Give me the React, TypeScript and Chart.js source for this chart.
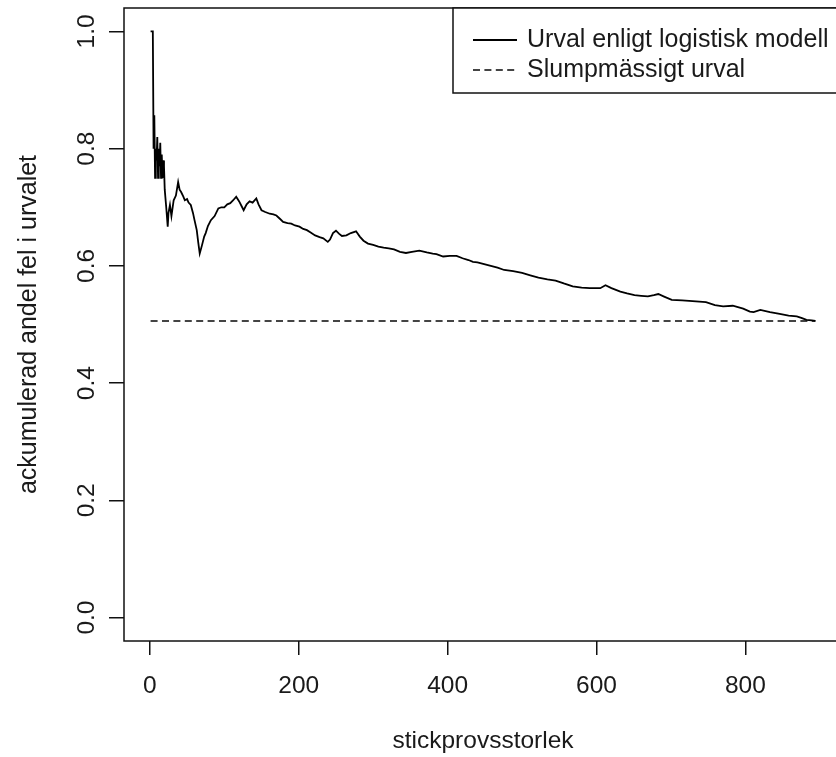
import React, { useEffect, useRef } from "react";
import { Chart, registerables } from "chart.js";

Chart.register(...registerables);

const sampleSize = [
  1, 4, 5, 6, 7, 8, 9, 10, 11, 12, 13, 14, 15, 16, 17, 18, 19, 20, 22, 24, 25, 27, 29, 32, 35, 38, 40, 42, 45, 47,
  50, 52, 55, 58, 60, 63, 65, 67, 70, 73, 75, 78, 82, 87, 92, 96, 100, 104, 108, 112, 116, 120, 124, 126, 130, 134,
  138, 143, 146, 150, 155, 161, 166, 170, 175, 179, 185, 190, 195, 201, 206, 211, 216, 222, 228, 233, 239, 242, 246,
  250, 254, 258, 264, 270, 277, 282, 287, 293, 300, 307, 314, 321, 328, 336, 344, 352, 362, 372, 380, 385, 394, 403,
  412, 420, 428, 434, 440, 449, 458, 467, 476, 488, 500, 511, 522, 534, 545, 556, 568, 580, 591, 600, 605, 612, 620,
  632, 641, 651, 660, 669, 677, 683, 690, 701, 715, 729, 738, 747, 759, 770, 783, 797, 806, 811, 820, 833, 846, 858,
  869, 876, 882, 889, 894,
];

const errorShare = [
  1.0, 1.0, 0.8, 0.857, 0.75, 0.8, 0.78, 0.82, 0.75, 0.8, 0.77, 0.81, 0.75, 0.79, 0.75, 0.78, 0.77, 0.73, 0.7, 0.667,
  0.69, 0.704, 0.685, 0.712, 0.72, 0.743, 0.73, 0.726, 0.718, 0.712, 0.714, 0.708, 0.704, 0.69, 0.678, 0.661, 0.64,
  0.621, 0.635, 0.65, 0.656, 0.668, 0.678, 0.685, 0.698, 0.7, 0.7, 0.705, 0.707, 0.712, 0.718, 0.71, 0.7, 0.695,
  0.705, 0.71, 0.708, 0.715, 0.705, 0.695, 0.692, 0.689, 0.688, 0.686, 0.68, 0.675, 0.673, 0.672, 0.669, 0.667,
  0.663, 0.661, 0.657, 0.652, 0.649, 0.647, 0.641, 0.645, 0.656, 0.66, 0.655, 0.651, 0.652, 0.656, 0.659, 0.65,
  0.643, 0.638, 0.636, 0.633, 0.631, 0.63, 0.628, 0.624, 0.622, 0.624, 0.626, 0.623, 0.621, 0.62, 0.616, 0.617,
  0.617, 0.613, 0.61, 0.607, 0.606, 0.603, 0.6, 0.597, 0.593, 0.591, 0.588, 0.584, 0.58, 0.577, 0.575, 0.57, 0.565,
  0.563, 0.562, 0.562, 0.562, 0.567, 0.562, 0.556, 0.553, 0.55, 0.549, 0.548, 0.55, 0.552, 0.548, 0.542, 0.541, 0.54,
  0.539, 0.538, 0.533, 0.531, 0.532, 0.527, 0.522, 0.521, 0.525, 0.521, 0.518, 0.515, 0.514, 0.511, 0.508, 0.507,
  0.506,
];

const randomShare = 0.506;

const xTickValues = [0, 200, 400, 600, 800];
const xTickLabels = ["0", "200", "400", "600", "800"];
const yTickValues = [0, 0.2, 0.4, 0.6, 0.8, 1.0];
const yTickLabels = ["0.0", "0.2", "0.4", "0.6", "0.8", "1.0"];

const seriesLabels = ["Urval enligt logistisk modell", "Slumpmässigt urval"];
const xTitle = "stickprovsstorlek";
const yTitle = "ackumulerad andel fel i urvalet";

const FONT = "'Liberation Sans', Arial, Helvetica, sans-serif";
const TEXT = "#1a1a1a";
const INK = "#111111";

const framePlugin = {
  id: "rframe",
  afterDraw(chart: any) {
    const { ctx, chartArea } = chart;
    ctx.save();
    ctx.strokeStyle = INK;
    ctx.lineWidth = 1.5;
    ctx.setLineDash([]);
    ctx.strokeRect(chartArea.left, chartArea.top, chartArea.right - chartArea.left + 20, chartArea.bottom - chartArea.top);

    // legend box (R style), anchored to plot top
    const bx = 453;
    const by = chartArea.top;
    const bh = 85;
    ctx.fillStyle = "#ffffff";
    ctx.fillRect(bx, by, 500, bh);
    ctx.strokeRect(bx, by, 500, bh);

    const ds = chart.data.datasets;
    const rows = [by + 32, by + 62];
    ds.forEach((d: any, i: number) => {
      ctx.save();
      ctx.strokeStyle = d.borderColor;
      ctx.lineWidth = d.borderWidth;
      ctx.setLineDash(d.borderDash || []);
      ctx.beginPath();
      ctx.moveTo(473, rows[i]);
      ctx.lineTo(517, rows[i]);
      ctx.stroke();
      ctx.restore();
      ctx.fillStyle = TEXT;
      ctx.font = `25px ${FONT}`;
      ctx.textBaseline = "middle";
      ctx.textAlign = "left";
      ctx.fillText(d.label, 527, rows[i]);
    });
    ctx.restore();
  },
};

export default function App() {
  const ref = useRef<HTMLCanvasElement | null>(null);

  useEffect(() => {
    if (!ref.current) return;
    const mainPoints = sampleSize.map((x, i) => ({ x, y: errorShare[i] }));
    const randomPoints = [
      { x: sampleSize[0], y: randomShare },
      { x: sampleSize[sampleSize.length - 1], y: randomShare },
    ];
    const chart = new Chart(ref.current, {
      type: "line",
      data: {
        datasets: [
          {
            label: seriesLabels[0],
            data: mainPoints,
            borderColor: "#000000",
            borderWidth: 1.8,
            pointRadius: 0,
            tension: 0,
            fill: false,
          },
          {
            label: seriesLabels[1],
            data: randomPoints,
            borderColor: "#444444",
            borderWidth: 2,
            borderDash: [7, 4.4],
            pointRadius: 0,
            tension: 0,
            fill: false,
          },
        ],
      },
      options: {
        animation: false,
        responsive: true,
        maintainAspectRatio: false,
        layout: { padding: { top: 8, right: 0, bottom: 0, left: 0 } },
        plugins: { legend: { display: false }, tooltip: { enabled: false } },
        scales: {
          x: {
            type: "linear",
            min: -34.72,
            max: 929.72,
            afterFit: (s: any) => {
              s.height = 116;
              s.paddingLeft = 0;
              s.paddingRight = 0;
            },
            afterBuildTicks: (s: any) => {
              s.ticks = xTickValues.map((v) => ({ value: v }));
            },
            ticks: {
              autoSkip: false,
              maxRotation: 0,
              minRotation: 0,
              padding: 17,
              color: TEXT,
              font: { family: FONT, size: 24.5 },
              callback: (_v: any, i: number) => xTickLabels[i],
            },
            grid: {
              display: true,
              drawOnChartArea: false,
              drawTicks: true,
              tickLength: 14,
              color: INK,
              lineWidth: 1.5,
            },
            border: { display: false },
            title: {
              display: true,
              text: xTitle,
              color: TEXT,
              font: { family: FONT, size: 24.5 },
              padding: { top: 0, bottom: 1 },
            },
          },
          y: {
            type: "linear",
            min: -0.04,
            max: 1.04,
            afterFit: (s: any) => {
              s.width = 124;
              s.paddingTop = 0;
              s.paddingBottom = 0;
            },
            afterBuildTicks: (s: any) => {
              s.ticks = yTickValues.map((v) => ({ value: v }));
            },
            ticks: {
              autoSkip: false,
              minRotation: 90,
              maxRotation: 90,
              crossAlign: "center",
              padding: 5,
              color: TEXT,
              font: { family: FONT, size: 24.5 },
              callback: (_v: any, i: number) => yTickLabels[i],
            },
            grid: {
              display: true,
              drawOnChartArea: false,
              drawTicks: true,
              tickLength: 15,
              color: INK,
              lineWidth: 1.5,
            },
            border: { display: false },
            title: {
              display: true,
              text: yTitle,
              color: TEXT,
              font: { family: FONT, size: 25 },
              padding: { top: 14, bottom: 0 },
            },
          },
        },
      },
      plugins: [framePlugin],
    });
    return () => chart.destroy();
  }, []);

  return (
    <div style={{ position: "fixed", left: 0, top: 0, width: 842, height: 757, background: "#ffffff" }}>
      <canvas ref={ref} />
    </div>
  );
}
